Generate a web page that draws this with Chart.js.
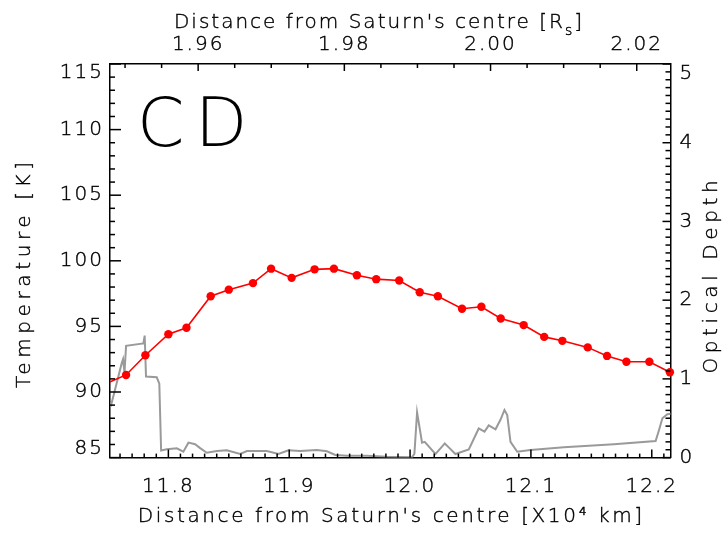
<!DOCTYPE html>
<html>
<head>
<meta charset="utf-8">
<script src="https://cdn.jsdelivr.net/npm/chart.js@4.4.0/dist/chart.umd.min.js"></script>
<style>
  html, body { margin: 0; padding: 0; background: #fff; }
  canvas { display: block; }
</style>
</head>
<body>
<canvas id="chart" width="728" height="534"></canvas>
<script>
// Temperature profile (red, left axis), distance in 10^4 km
const tempDist = [11.735, 11.765, 11.781, 11.800, 11.815, 11.835, 11.850, 11.870, 11.885, 11.902,
                  11.921, 11.937, 11.956, 11.972, 11.991, 12.008, 12.023, 12.043, 12.059, 12.075,
                  12.094, 12.111, 12.126, 12.147, 12.163, 12.179, 12.198, 12.215];
const tempK = [90.1, 91.3, 92.8, 94.4, 94.9, 97.3, 97.8, 98.3, 99.4, 98.7,
               99.35, 99.4, 98.9, 98.6, 98.5, 97.6, 97.3, 96.35, 96.5, 95.6,
               95.1, 94.2, 93.9, 93.4, 92.75, 92.3, 92.3, 91.5];

// Optical depth profile (grey, right axis)
const tauDist = [11.7523, 11.7558, 11.7614, 11.7625, 11.7637, 11.7650, 11.7793, 11.7804, 11.7815, 11.7904,
                 11.7925, 11.7940, 11.7987, 11.8070, 11.8124, 11.8166, 11.8221, 11.8263, 11.8318, 11.8401,
                 11.8484, 11.8594, 11.8650, 11.8815, 11.8911, 11.8994, 11.9091, 11.9229, 11.9312, 11.9381,
                 11.9478, 11.9644, 11.9809, 12.0017, 12.0036, 12.0058, 12.0099, 12.0121, 12.0210, 12.0259,
                 12.0287, 12.0320, 12.0375, 12.0486, 12.0568, 12.0616, 12.0651, 12.0707, 12.0748, 12.0781,
                 12.0804, 12.0831, 12.0887, 12.0997, 12.1273, 12.1687, 12.2032, 12.2060, 12.2088, 12.2129,
                 12.2171];
const tauVal = [0.65, 0.86, 1.20, 1.25, 1.08, 1.42, 1.45, 1.55, 1.03, 1.02,
                0.94, 0.09, 0.105, 0.118, 0.075, 0.19, 0.17, 0.12, 0.062, 0.084,
                0.093, 0.046, 0.084, 0.084, 0.046, 0.093, 0.085, 0.097, 0.08, 0.033,
                0.024, 0.024, 0.011, 0.004, 0.05, 0.575, 0.19, 0.2, 0.046, 0.13,
                0.18, 0.13, 0.046, 0.105, 0.37, 0.33, 0.41, 0.36, 0.48, 0.605,
                0.54, 0.2, 0.075, 0.097, 0.13, 0.17, 0.21, 0.35, 0.5, 0.55,
                0.56];

// Tick labels
const distTicks = [11.8, 11.9, 12.0, 12.1, 12.2];
const rsTicks = [1.96, 1.98, 2.00, 2.02];
const tempTicks = [85, 90, 95, 100, 105, 110, 115];
const tauTicks = [0, 1, 2, 3, 4, 5];

const FONT = "'DejaVu Sans', sans-serif";
const tickFont = { family: FONT, size: 20, weight: 200 };
const TEXT_STROKE = 0.4;

// thin text, centred on (cx, cy), with extra letter spacing
function spacedText(ctx, text, cx, cy, rot, spacing, size) {
  ctx.save();
  ctx.font = `200 ${size}px ${FONT}`;
  ctx.letterSpacing = spacing + 'px';
  const w = ctx.measureText(text).width - spacing;
  ctx.translate(cx, cy);
  ctx.rotate(rot);
  ctx.textAlign = 'left';
  ctx.textBaseline = 'middle';
  ctx.fillText(text, -w / 2, 0);
  ctx.strokeText(text, -w / 2, 0);
  ctx.restore();
}

function thinText(ctx, text, x, y) {
  ctx.fillText(text, x, y);
  ctx.strokeText(text, x, y);
}

// IDL style inward tick marks, titles and the region label
const idlDecor = {
  id: 'idlDecor',
  beforeDraw(chart) {
    chart.ctx.letterSpacing = '2px';
  },
  afterDraw(chart) {
    const { ctx, chartArea: a, scales } = chart;
    ctx.save();
    ctx.strokeStyle = '#000';
    ctx.lineWidth = 1.5;
    const marks = (scale, step, majorEvery, minorLen, majorLen, side) => {
      const n0 = Math.ceil(scale.min / step - 1e-6);
      const n1 = Math.floor(scale.max / step + 1e-6);
      for (let n = n0; n <= n1; n++) {
        const len = n % majorEvery === 0 ? majorLen : minorLen;
        const p = scale.getPixelForValue(n * step);
        ctx.beginPath();
        if (side === 'bottom') { ctx.moveTo(p, a.bottom); ctx.lineTo(p, a.bottom - len); }
        if (side === 'top') { ctx.moveTo(p, a.top); ctx.lineTo(p, a.top + len); }
        if (side === 'left') { ctx.moveTo(a.left, p); ctx.lineTo(a.left + len, p); }
        if (side === 'right') { ctx.moveTo(a.right, p); ctx.lineTo(a.right - len, p); }
        ctx.stroke();
      }
    };
    marks(scales.x, 0.01, 10, 4, 8, 'bottom');
    marks(scales.x2, 0.005, 4, 4, 7, 'top');
    marks(scales.y, 1, 5, 5, 11, 'left');
    marks(scales.y2, 0.1, 10, 5, 8, 'right');

    ctx.fillStyle = '#000';
    ctx.lineWidth = TEXT_STROKE;
    ctx.letterSpacing = '0px';

    // region label
    ctx.font = `200 68px ${FONT}`;
    ctx.textBaseline = 'alphabetic';
    ctx.textAlign = 'left';
    ctx.fillText('C', 137, 146);
    ctx.fillText('D', 195, 146);

    // axis titles
    spacedText(ctx, "Distance from Saturn's centre [X10\u2074 km]", 390, 517, 0, 2.6, 20);
    spacedText(ctx, 'Temperature [K]', 25, 275, -Math.PI / 2, 4.6, 20);
    spacedText(ctx, 'Optical Depth', 712, 277, -Math.PI / 2, 4.6, 20);

    // top axis title with subscript
    ctx.letterSpacing = '2px';
    ctx.font = `200 20px ${FONT}`;
    const main = "Distance from Saturn's centre [R";
    const w1 = ctx.measureText(main).width;
    ctx.font = `200 14px ${FONT}`;
    const w2 = ctx.measureText('s').width;
    ctx.font = `200 20px ${FONT}`;
    const w3 = ctx.measureText(']').width;
    const x0 = 379 - (w1 + w2 + w3) / 2;
    thinText(ctx, main, x0, 28);
    ctx.font = `200 14px ${FONT}`;
    thinText(ctx, 's', x0 + w1, 35);
    ctx.font = `200 20px ${FONT}`;
    thinText(ctx, ']', x0 + w1 + w2, 28);
    ctx.restore();
  }
};

const axisBorder = { display: true, color: '#000', width: 1.5 };
const noGrid = { display: false, drawTicks: false };
const tickText = { color: '#000', textStrokeColor: '#000', textStrokeWidth: TEXT_STROKE };

new Chart(document.getElementById('chart'), {
  type: 'line',
  data: {
    datasets: [
      {
        label: 'Temperature',
        data: tempDist.map((d, i) => ({ x: d, y: tempK[i] })),
        xAxisID: 'x',
        yAxisID: 'y',
        borderColor: '#ff0000',
        backgroundColor: '#ff0000',
        borderWidth: 1.6,
        pointRadius: 4.2,
        pointBorderWidth: 0,
        tension: 0,
        clip: { left: 0, top: 0, right: 6, bottom: 0 }
      },
      {
        label: 'Optical Depth',
        data: tauDist.map((d, i) => ({ x: d, y: tauVal[i] })),
        xAxisID: 'x',
        yAxisID: 'y2',
        borderColor: '#9a9a9a',
        borderWidth: 2,
        pointRadius: 0,
        tension: 0,
        clip: 0
      }
    ]
  },
  options: {
    responsive: false,
    animation: false,
    devicePixelRatio: 1,
    layout: { padding: 0 },
    plugins: { legend: { display: false }, tooltip: { enabled: false } },
    scales: {
      x: {
        type: 'linear', position: 'bottom', min: 11.7517, max: 12.2155,
        afterBuildTicks: s => { s.ticks = distTicks.map(v => ({ value: v })); },
        afterFit: s => { s.height = 76.4; },
        grid: noGrid, border: axisBorder,
        ticks: { ...tickText, font: tickFont, padding: 17, maxRotation: 0, callback: v => v.toFixed(1) }
      },
      x2: {
        type: 'linear', position: 'top', min: 1.94794, max: 2.02462,
        afterBuildTicks: s => { s.ticks = rsTicks.map(v => ({ value: v })); },
        afterFit: s => { s.height = 64; },
        grid: noGrid, border: axisBorder,
        ticks: { ...tickText, font: tickFont, padding: 7, maxRotation: 0, callback: v => v.toFixed(2) }
      },
      y: {
        type: 'linear', position: 'left', min: 85, max: 115,
        afterBuildTicks: s => { s.ticks = tempTicks.map(v => ({ value: v })); },
        afterFit: s => { s.width = 110; },
        grid: noGrid, border: axisBorder,
        ticks: {
          ...tickText, font: { ...tickFont, lineHeight: 0.85 }, padding: 6,
          callback: v => v === 115 ? ['', '115'] : v === 85 ? ['85', ''] : String(v)
        }
      },
      y2: {
        type: 'linear', position: 'right', min: 0, max: 5,
        afterBuildTicks: s => { s.ticks = tauTicks.map(v => ({ value: v })); },
        afterFit: s => { s.width = 57.5; },
        grid: noGrid, border: axisBorder,
        ticks: {
          ...tickText, font: { ...tickFont, lineHeight: 0.95 }, padding: 9,
          callback: v => v === 5 ? ['', '5'] : String(v)
        }
      }
    }
  },
  plugins: [idlDecor]
});
</script>
</body>
</html>
